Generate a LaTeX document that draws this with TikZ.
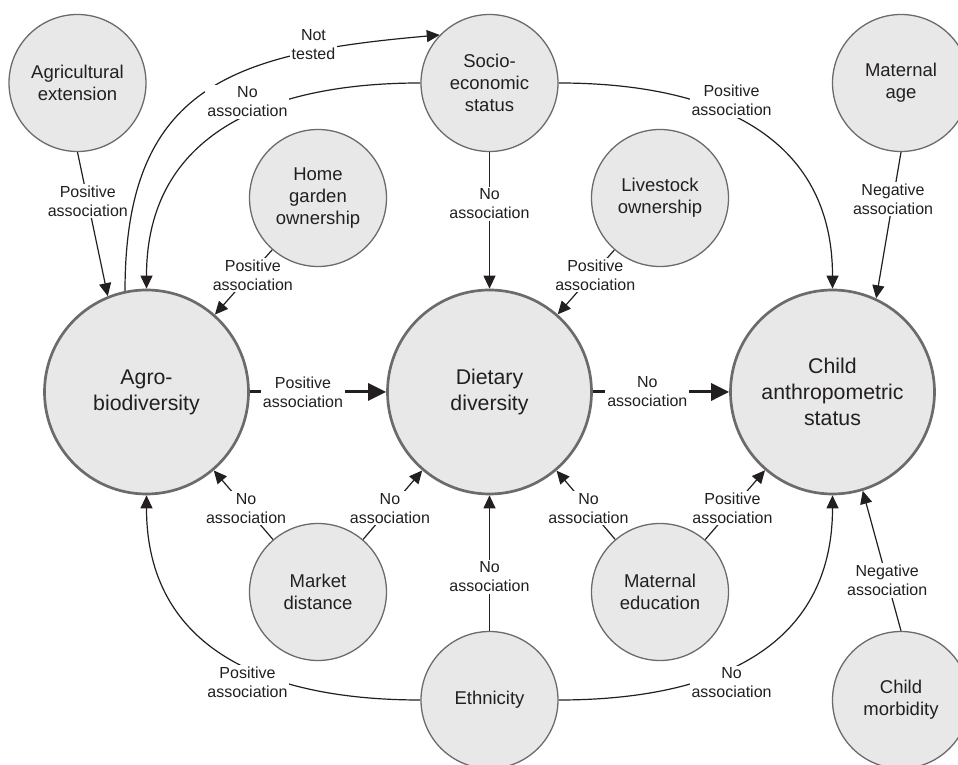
\documentclass[tikz,border=0pt]{standalone}
\usepackage{fontspec}
\setmainfont{Liberation Sans}
\usetikzlibrary{arrows.meta}
\definecolor{ringgray}{HTML}{6B6B6B}
\definecolor{discgray}{HTML}{E8E8E8}
\definecolor{inkblack}{HTML}{231F20}
\pgfdeclarelayer{edges}
\pgfsetlayers{edges,main}

\begin{document}
\begin{tikzpicture}[x=1pt, y=1pt, font=\fontsize{16}{19}\selectfont, text=inkblack,
factor/.style={circle, draw=ringgray, fill=discgray, line width=1.3pt, minimum size=137pt, inner sep=0pt, align=center, font=\fontsize{18.5}{22}\selectfont},
outcome/.style={factor, line width=2.7pt, minimum size=204pt, font=\fontsize{21.3}{26}\selectfont},
link/.style={draw=inkblack, line width=1.2pt, -{Triangle[length=13pt, width=12pt]}},
mainlink/.style={link, line width=3pt, -{Triangle[length=18pt, width=17pt]}},
assoc/.style={fill=white, inner sep=2pt, align=center},
]
\clip (0,0) rectangle (958,765);
% top row
\node[factor] (agext) at (77.5,682) {Agricultural\\extension};
\node[factor] (socio) at (489.5,682) {Socio-\\economic\\status};
\node[factor] (mage) at (901,682) {Maternal\\age};
\node[factor] (garden) at (318,567) {Home\\garden\\ownership};
\node[factor] (stock) at (660,567) {Livestock\\ownership};
% main chain
\node[outcome] (agro) at (146.5,373) {Agro-\\biodiversity};
\node[outcome] (diet) at (489.5,373) {Dietary\\diversity};
\node[outcome] (child) at (832.5,373) {Child\\anthropometric\\status};
% bottom row
\node[factor] (market) at (318,173) {Market\\distance};
\node[factor] (medu) at (660,173) {Maternal\\education};
\node[factor] (eth) at (489.5,65) {Ethnicity};
\node[factor] (morb) at (901,65) {Child\\morbidity};

\begin{pgfonlayer}{edges}
\draw[link] (agext.south) -- node[assoc, pos=0.34] {Positive\\association} (agro.112);
\draw[link] (agro.102) to[out=90, in=185, looseness=1.3] node[assoc, pos=0.77, yshift=7pt] {Not\\tested} (socio.136);
\draw[link] (socio.west) to[out=180, in=90, looseness=1.15] node[assoc, pos=0.43, yshift=14pt] {No\\association} (agro.north);
\draw[link] (socio.east) to[out=0, in=90, looseness=1.15] node[assoc, pos=0.43, yshift=15pt] {Positive\\association} (child.north);
\draw[link] (socio) -- node[assoc, pos=0.38] {No\\association} (diet);
\draw[link] (mage.south) -- node[assoc, pos=0.32] {Negative\\association} (child.65);
\draw[link] (garden) -- node[assoc, pos=0.39, xshift=3pt] {Positive\\association} (agro);
\draw[link] (stock) -- node[assoc, pos=0.39, xshift=3pt] {Positive\\association} (diet);
\draw[mainlink] (agro) -- node[assoc, pos=0.39] {Positive\\association} (diet);
\draw[mainlink] (diet) -- node[assoc, pos=0.40] {No\\association} (child);
\draw[link] (market) -- node[assoc, pos=0.455] {No\\association} (agro);
\draw[link] (market) -- node[assoc, pos=0.455] {No\\association} (diet);
\draw[link] (medu) -- node[assoc, pos=0.455] {No\\association} (diet);
\draw[link] (medu) -- node[assoc, pos=0.455] {Positive\\association} (child);
\draw[link] (eth) -- node[assoc, pos=0.40] {No\\association} (diet);
\draw[link] (eth.west) to[out=180, in=270, looseness=1.15] node[assoc, pos=0.43, yshift=-15pt] {Positive\\association} (agro.south);
\draw[link] (eth.east) to[out=0, in=270, looseness=1.15] node[assoc, pos=0.43, yshift=-15pt] {No\\association} (child.south);
\draw[link] (morb.north) -- node[assoc, pos=0.36] {Negative\\association} (child.-73);
\end{pgfonlayer}
\end{tikzpicture}
\end{document}
